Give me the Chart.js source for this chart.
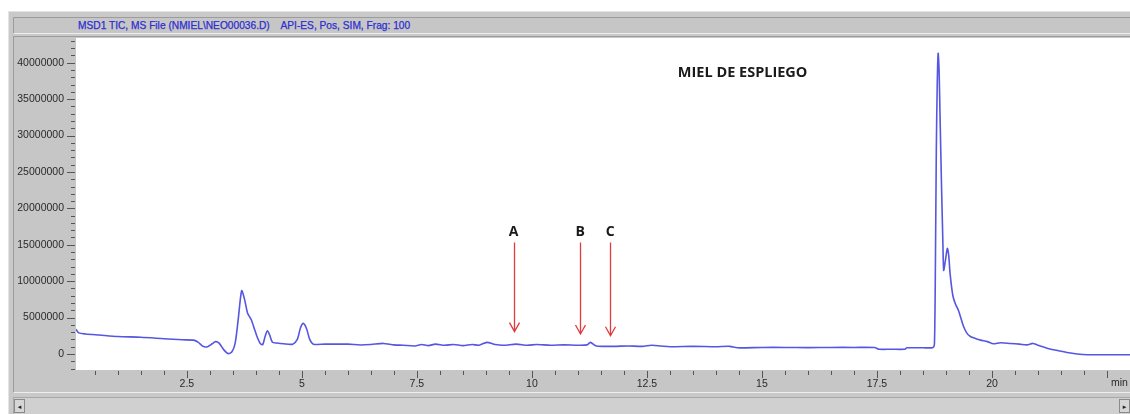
<!DOCTYPE html>
<html>
<head>
<meta charset="utf-8">
<script src="https://cdn.jsdelivr.net/npm/chart.js@4/dist/chart.umd.min.js"></script>
<style>
  html, body { margin: 0; padding: 0; background: #fff; }
  #wrap { position: relative; width: 1130px; height: 414px; overflow: hidden; }
  .panel { position: absolute; box-sizing: border-box; }
  #outer { left: 8px; top: 11px; right: 0; bottom: 0; background: #c9c9c9; border-top: 1px solid #e4e4e4; border-left: 1px solid #e4e4e4; }
  #titlebar { left: 13px; top: 17px; right: 0; height: 17px; background: #c6c6c6;
    border-top: 1px solid #9c9c9c; border-left: 1px solid #9c9c9c; border-bottom: 1px solid #eeeeee;
    font: 10.2px "Liberation Sans", Arial, sans-serif; color: #2e2ed2; white-space: pre;
    padding-left: 64px; line-height: 15px; -webkit-text-stroke: 0.25px #2e2ed2; }
  #axes { left: 13px; top: 36px; right: 0; height: 357px; background: #c6c6c6;
    border-top: 1px solid #9c9c9c; border-left: 1px solid #9c9c9c; border-bottom: 1px solid #eeeeee; }
  #scroll { left: 13px; top: 397px; right: 0; height: 17px; background: #d0d0d0;
    border-top: 1px solid #a8a8a8; border-left: 1px solid #a8a8a8; }
  #btnL { left: 14px; top: 399px; width: 11px; height: 14px; background: #d6d6d6;
    border: 1px solid #8a8a8a; font: 7px "DejaVu Sans", sans-serif; color: #222; text-align: center; line-height: 14px; }
  #btnR { right: 0; top: 399px; width: 11px; height: 14px; background: #d6d6d6;
    border: 1px solid #8a8a8a; font: 7px "DejaVu Sans", sans-serif; color: #222; text-align: center; line-height: 14px; }
  canvas { position: absolute; left: 0; top: 0; }
</style>
</head>
<body>
<div id="wrap">
  <div class="panel" id="outer"></div>
  <div class="panel" id="titlebar">MSD1 TIC, MS File (NMIEL\NEO00036.D)    API-ES, Pos, SIM, Frag: 100</div>
  <div class="panel" id="axes"></div>
  <div class="panel" id="scroll"></div>
  <div class="panel" id="btnL">◂</div>
  <div class="panel" id="btnR">▸</div>
  <canvas id="tic" width="1130" height="414"></canvas>
</div>
<script>
// retention time (min) and TIC abundance
const rt = [
  0.09, 0.15, 0.3, 0.6, 1.0, 1.5, 2.0, 2.4, 2.65, 2.75, 2.85, 2.95, 3.05, 3.12, 3.2, 3.3,
  3.4, 3.48, 3.55, 3.62, 3.69, 3.75, 3.82, 3.9, 3.97, 4.03, 4.1, 4.15, 4.2, 4.25, 4.3, 4.36,
  4.45, 4.6, 4.8, 4.9, 4.97, 5.03, 5.1, 5.17, 5.25, 5.5, 6.0, 6.27, 6.5, 6.77, 7.0, 7.2,
  7.46, 7.6, 7.75, 7.9, 8.1, 8.3, 8.5, 8.7, 8.85, 9.02, 9.2, 9.39, 9.66, 9.9, 10.1, 10.4,
  10.7, 11.0, 11.2, 11.27, 11.4, 11.77, 12.1, 12.4, 12.6, 12.8, 13.0, 13.5, 14.0, 14.3,
  14.46, 15.0, 15.5, 16.0, 16.5, 17.0, 17.45, 17.55, 17.8, 18.1, 18.15, 18.5, 18.72, 18.75,
  18.77, 18.79, 18.81, 18.83, 18.85, 18.87, 18.9, 18.93, 18.95, 18.98, 19.03, 19.06, 19.09,
  19.15, 19.21, 19.27, 19.33, 19.38, 19.45, 19.53, 19.65, 19.75, 19.9, 20.03, 20.18, 20.4,
  20.6, 20.76, 20.89, 21.0, 21.2, 21.4, 21.63, 21.85, 22.07, 23.0
];
const tic = [
  3.4e6, 2.9e6, 2.75e6, 2.6e6, 2.4e6, 2.3e6, 2.1e6, 1.95e6, 1.9e6, 1.6e6, 1.05e6, 1.0e6, 1.4e6, 1.7e6, 1.5e6, 0.6e6,
  0.05e6, 0.3e6, 1.5e6, 5.0e6, 8.7e6, 7.6e6, 5.6e6, 4.7e6, 3.4e6, 2.3e6, 1.4e6, 1.3e6, 2.4e6, 3.2e6, 2.6e6, 1.6e6,
  1.5e6, 1.4e6, 1.35e6, 2.0e6, 3.6e6, 4.2e6, 3.5e6, 2.0e6, 1.35e6, 1.35e6, 1.35e6, 1.24e6, 1.3e6, 1.45e6, 1.25e6, 1.2e6,
  1.1e6, 1.3e6, 1.15e6, 1.35e6, 1.2e6, 1.3e6, 1.15e6, 1.3e6, 1.2e6, 1.6e6, 1.3e6, 1.2e6, 1.35e6, 1.2e6, 1.3e6, 1.2e6,
  1.25e6, 1.2e6, 1.25e6, 1.6e6, 1.1e6, 1.05e6, 1.1e6, 1.05e6, 1.2e6, 1.1e6, 1.0e6, 1.05e6, 1.0e6, 1.05e6,
  0.85e6, 0.9e6, 0.9e6, 0.88e6, 0.9e6, 0.9e6, 0.88e6, 0.65e6, 0.65e6, 0.65e6, 0.85e6, 0.85e6, 0.9e6, 1.5e6,
  12e6, 28e6, 37e6, 41.3e6, 39e6, 33e6, 24e6, 16e6, 11.5e6, 12.5e6, 14.5e6, 13.5e6, 11.0e6,
  8.0e6, 6.8e6, 6.0e6, 4.8e6, 3.8e6, 2.9e6, 2.4e6, 2.1e6, 1.9e6, 1.7e6, 1.4e6, 1.55e6, 1.45e6,
  1.35e6, 1.25e6, 1.45e6, 1.2e6, 0.8e6, 0.5e6, 0.2e6, 0.0, -0.1e6, -0.1e6
];

// marked compounds
const markNames = ['A', 'B', 'C'];
const markRt = [9.6, 11.05, 11.7];
const markTip = [3.07e6, 2.75e6, 2.5e6];
const markTop = 15.3e6;
const markLabelY = 16.8e6;

const sampleName = 'MIEL DE ESPLIEGO';
const sampleRt = 14.58;
const sampleY = 38.6e6;

const xTicks = [];
for (let v = 0.5; v <= 22.5; v += 0.5) xTicks.push(v);
const yTicks = [];
for (let v = -2e6; v <= 43e6; v += 1e6) yTicks.push(v);

const isMajorX = v => Math.abs(v / 2.5 - Math.round(v / 2.5)) < 1e-6;
const isMajorY = v => v % 5e6 === 0;

const decor = {
  id: 'decor',
  beforeDraw(chart) {
    const { ctx, chartArea: a } = chart;
    ctx.save();
    ctx.fillStyle = '#ffffff';
    ctx.fillRect(a.left, a.top, a.right - a.left, a.bottom - a.top);
    ctx.restore();
  },
  afterDraw(chart) {
    const { ctx, chartArea: a, scales: { x, y } } = chart;
    ctx.save();
    // tick marks
    ctx.strokeStyle = '#555';
    ctx.lineWidth = 1;
    ctx.beginPath();
    y.ticks.forEach(t => {
      const py = Math.round(y.getPixelForValue(t.value)) + 0.5;
      const len = isMajorY(t.value) ? 8 : 4;
      ctx.moveTo(a.left - 1 - len, py);
      ctx.lineTo(a.left - 1, py);
    });
    x.ticks.forEach(t => {
      const px = Math.round(x.getPixelForValue(t.value)) + 0.5;
      const len = isMajorX(t.value) ? 7 : 4;
      ctx.moveTo(px, a.bottom + 1);
      ctx.lineTo(px, a.bottom + 1 + len);
    });
    ctx.stroke();

    ctx.fillStyle = '#2a2a2a';
    ctx.font = '10.5px "Liberation Sans", Arial, sans-serif';
    ctx.textBaseline = 'middle';
    ctx.textAlign = 'left';
    ctx.fillText('min', x.getPixelForValue(22.5) + 4, a.bottom + 13);

    // arrows to marked compounds
    ctx.strokeStyle = '#e23a3a';
    ctx.lineWidth = 1.3;
    markRt.forEach((r, i) => {
      const px = Math.round(x.getPixelForValue(r)) + 0.5;
      const top = y.getPixelForValue(markTop);
      const tip = y.getPixelForValue(markTip[i]);
      ctx.beginPath();
      ctx.moveTo(px, top);
      ctx.lineTo(px, tip);
      ctx.moveTo(px - 5, tip - 9);
      ctx.lineTo(px, tip);
      ctx.lineTo(px + 5, tip - 9);
      ctx.stroke();
    });

    ctx.fillStyle = '#1a1a1a';
    ctx.font = '700 14px "Open Sans", sans-serif';
    ctx.textAlign = 'center';
    markNames.forEach((n, i) => {
      ctx.fillText(n, x.getPixelForValue(markRt[i]), y.getPixelForValue(markLabelY));
    });
    ctx.font = '700 14.5px "Open Sans", sans-serif';
    ctx.fillText(sampleName, x.getPixelForValue(sampleRt), y.getPixelForValue(sampleY));
    ctx.restore();
  }
};

new Chart(document.getElementById('tic'), {
  type: 'line',
  data: {
    datasets: [{
      data: rt.map((r, i) => ({ x: r, y: tic[i] })),
      borderColor: '#5656e2',
      borderWidth: 1.6,
      pointRadius: 0,
      tension: 0.25,
      fill: false
    }]
  },
  options: {
    responsive: false,
    animation: false,
    layout: { padding: { left: 14, top: 38, right: 0, bottom: 21 } },
    plugins: { legend: { display: false }, tooltip: { enabled: false } },
    scales: {
      x: {
        type: 'linear',
        min: 0.09,
        max: 23.0,
        afterBuildTicks: s => { s.ticks = xTicks.map(v => ({ value: v })); },
        afterFit: s => { s.height = 23; },
        grid: { display: false },
        border: { display: false },
        ticks: {
          autoSkip: false,
          maxRotation: 0,
          padding: 0,
          color: '#2a2a2a',
          font: { family: '"Liberation Sans", Arial, sans-serif', size: 10.5 },
          callback: v => (isMajorX(v) && v < 22.5 ? String(v) : '')
        }
      },
      y: {
        min: -2.2e6,
        max: 43.4e6,
        afterBuildTicks: s => { s.ticks = yTicks.map(v => ({ value: v })); },
        afterFit: s => { s.width = 62; },
        grid: { display: false },
        border: { display: false },
        ticks: {
          autoSkip: false,
          padding: 4,
          color: '#2a2a2a',
          font: { family: '"Liberation Sans", Arial, sans-serif', size: 10.5 },
          callback: v => (isMajorY(v) && v >= 0 ? String(v) : '')
        }
      }
    }
  },
  plugins: [decor]
});
</script>
</body>
</html>
